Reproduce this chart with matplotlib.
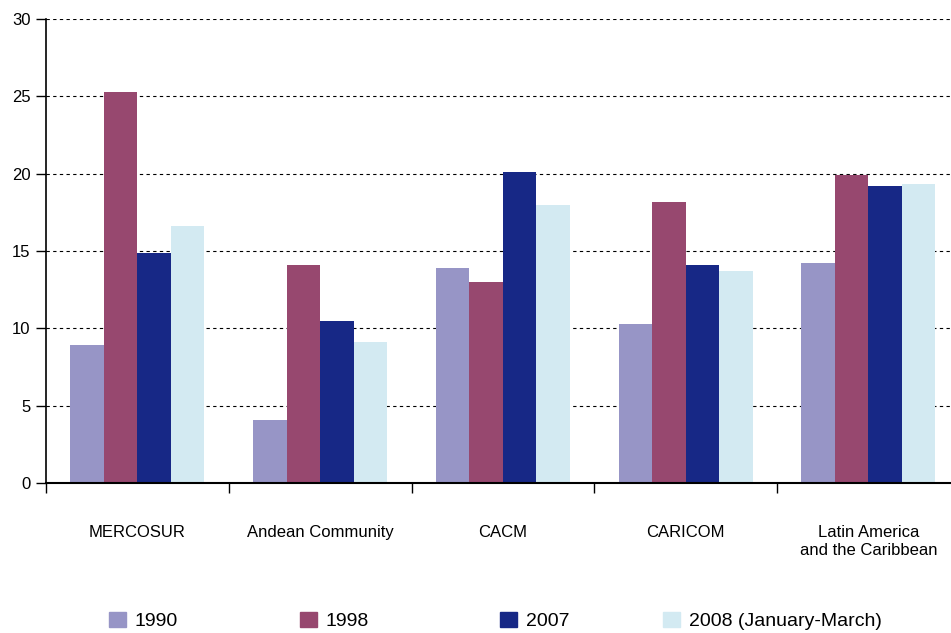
import numpy as np
import matplotlib.pyplot as plt
from matplotlib.patches import Patch

# data
regions = ['MERCOSUR', 'Andean Community', 'CACM', 'CARICOM',
           'Latin America\nand the Caribbean']
years = ['1990', '1998', '2007', '2008 (January-March)']
v1990 = [8.9, 4.1, 13.9, 10.3, 14.2]
v1998 = [25.3, 14.1, 13.0, 18.2, 19.9]
v2007 = [14.9, 10.5, 20.1, 14.1, 19.2]
v2008 = [16.6, 9.1, 18.0, 13.7, 19.3]

colors = ['#9795c6', '#97486f', '#172886', '#d3eaf2']
series = [v1990, v1998, v2007, v2008]

plt.rcParams['font.family'] = ['Liberation Sans', 'DejaVu Sans']

fig = plt.figure(figsize=(9.51, 6.33), dpi=100)
ax = fig.add_axes([46 / 951, 150 / 633, 905 / 951, 464 / 633])

x = np.arange(len(regions))
w = 0.183
for i, (vals, c) in enumerate(zip(series, colors)):
    ax.bar(x + (i - 1.5) * w, vals, w, color=c, zorder=3, linewidth=0)

ax.set_yticks(range(0, 31, 5))
ax.yaxis.grid(True, color='black', linestyle=(0, (3, 3)), linewidth=0.8, zorder=0)
ax.tick_params(axis='y', direction='out', length=7, width=1, labelsize=12, pad=4)

# group boundaries as major ticks, labels at centres as minor ticks
ax.set_xticks(np.arange(-0.5, len(regions), 1.0))
ax.set_xticklabels([])
ax.tick_params(axis='x', which='major', direction='out', length=7, width=1)
ax.set_xticks(x, minor=True)
ax.set_xticklabels(regions, minor=True, fontsize=12, va='top', linespacing=1.25)
ax.tick_params(axis='x', which='minor', length=0, pad=30)

# the last group runs off the right edge of the picture
ax.set_ylim(0, 30)
ax.set_xlim(-0.5, -0.5 + 905 / 182.75)

for s in ['top', 'right']:
    ax.spines[s].set_visible(False)
ax.spines['left'].set_linewidth(1.2)
ax.spines['bottom'].set_linewidth(1.5)
ax.spines['bottom'].set_zorder(4)

# one legend entry per year, placed where the reference has them
legend_x = [109, 300, 500, 663]
for c, y, lx in zip(colors, years, legend_x):
    leg = fig.legend(handles=[Patch(color=c, label=y)], loc='center left',
                     bbox_to_anchor=(lx / 951, 1 - 621 / 633), frameon=False,
                     fontsize=14, handlelength=0.87, handleheight=0.82,
                     handletextpad=0.46, borderpad=0, borderaxespad=0)

fig.savefig('out.png', dpi=100)
